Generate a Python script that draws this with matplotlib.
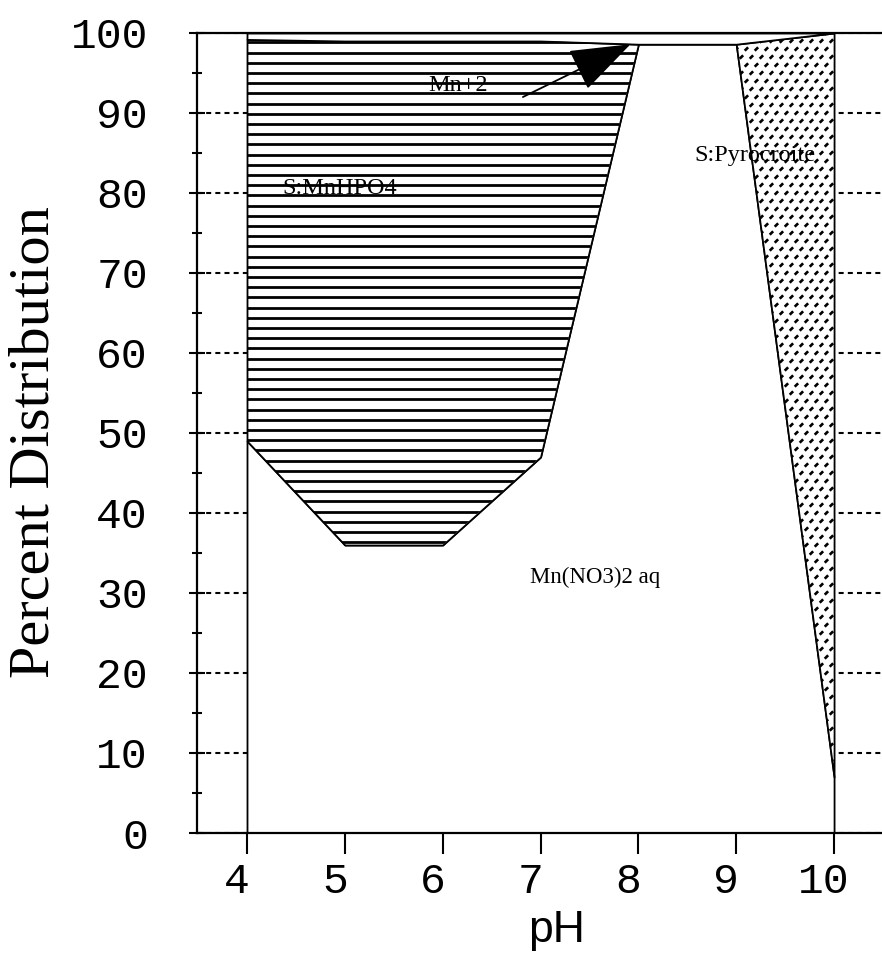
import numpy as np
import matplotlib
matplotlib.use("Agg")
import matplotlib.pyplot as plt
from matplotlib.collections import LineCollection
from matplotlib.transforms import ScaledTranslation

# Species distribution of Mn versus pH (cumulative stacking, bottom to top)
ph = [4, 5, 6, 7, 8, 9, 10]
mn_no3_aq = [49.0, 36.0, 36.0, 47.0, 98.6, 98.6, 7.0]     # Mn(NO3)2 aq
s_mnhpo4 = [50.2, 63.0, 63.0, 52.0, 0.0, 0.0, 0.0]        # S:MnHPO4
s_pyrocroite = [0.0, 0.0, 0.0, 0.0, 0.0, 0.0, 93.0]       # S:Pyrocroite
mn_2 = [0.8, 1.0, 1.0, 1.0, 1.4, 1.4, 0.0]                # Mn+2

x_ticks = [4, 5, 6, 7, 8, 9, 10]
y_ticks = [0, 10, 20, 30, 40, 50, 60, 70, 80, 90, 100]

W, H, DPI = 882, 963, 100
fig = plt.figure(figsize=(W / DPI, H / DPI), dpi=DPI)
ax_l, ax_b, ax_w, ax_h = 197, 130, 685, 800
x0, x1 = 3.489, 10.49
ax = fig.add_axes([ax_l / W, ax_b / H, ax_w / W, ax_h / H])
ax.set_xlim(x0, x1)
ax.set_ylim(0, 100)

px_per_x = ax_w / (x1 - x0)
px_per_y = ax_h / 100.0

ph_a = np.array(ph, float)
b0 = np.zeros_like(ph_a)
b1 = b0 + np.array(mn_no3_aq)
b2 = b1 + np.array(s_mnhpo4)
b3 = b2 + np.array(s_pyrocroite)
b4 = b3 + np.array(mn_2)

edge_kw = dict(facecolor="white", edgecolor="black", linewidth=1.3, zorder=2)

ax.fill_between(ph_a, b0, b1, **edge_kw)

# S:MnHPO4 band (pH 4-8) with horizontal line shading
m = ph_a <= 8
poly_hpo4 = ax.fill_between(ph_a[m], b1[m], b2[m], **edge_kw)
step = 10.2 / px_per_y
ys = np.arange(step / 2, 100, step)
segs = [[(4.0, yv), (10.0, yv)] for yv in ys]
lc = LineCollection(segs, colors="black", linewidths=2.0, zorder=3)
ax.add_collection(lc)
lc.set_clip_path(poly_hpo4.get_paths()[0], poly_hpo4.get_transform())

# S:Pyrocroite band (pH 9-10) with small dash texture
mp = ph_a >= 9
poly_pyr = ax.fill_between(ph_a[mp], b2[mp], b3[mp], **edge_kw)
dxp, dyp = 10.0, 8.0
half = 1.7
marks = []
for r, py in enumerate(np.arange(0, ax_h + dyp, dyp)):
    off = (dxp / 2) if r % 2 else 0.0
    for px in np.arange((8.9 - x0) * px_per_x + off, (10.1 - x0) * px_per_x, dxp):
        xc = x0 + px / px_per_x
        yc = py / px_per_y
        marks.append([(xc - half / px_per_x, yc - half / px_per_y),
                      (xc + half / px_per_x, yc + half / px_per_y)])
lc2 = LineCollection(marks, colors="black", linewidths=1.9, zorder=3, capstyle="butt")
ax.add_collection(lc2)
lc2.set_clip_path(poly_pyr.get_paths()[0], poly_pyr.get_transform())

# Mn+2 thin band on top
ax.fill_between(ph_a, b3, b4, **edge_kw)

# Axes styling
ax.spines["right"].set_visible(False)
for side in ("left", "bottom", "top"):
    ax.spines[side].set_linewidth(1.6)
    ax.spines[side].set_zorder(4)

ax.set_xticks(x_ticks)
ax.set_yticks(y_ticks)
ax.set_yticks(np.arange(5, 100, 10), minor=True)
mono = "Liberation Mono"
ax.tick_params(axis="x", direction="out", length=15, width=1.5, pad=6,
               labelsize=31, labelfontfamily=mono)
ax.tick_params(axis="y", which="major", direction="inout", length=11, width=1.5,
               pad=30, labelsize=31, labelfontfamily=mono)
ax.tick_params(axis="y", which="minor", direction="inout", length=7, width=1.5)
ax.tick_params(axis="x", which="minor", bottom=False)

ax.set_axisbelow(True)
ax.yaxis.grid(True, which="major", color="black", linewidth=1.5,
              linestyle=(0, (2.4, 2.0)))
ax.xaxis.grid(False)

for lbl in ax.get_xticklabels():
    lbl.set_transform(lbl.get_transform() + ScaledTranslation(-0.1, 0, fig.dpi_scale_trans))

serif = "Liberation Serif"
ax.text(4.95, 80.6, "S:MnHPO4", family=serif, fontsize=17.5, ha="center", va="center", zorder=2.5)
ax.text(6.16, 93.4, "Mn+2", family=serif, fontsize=17.5, ha="center", va="center", zorder=5)
ax.text(9.19, 84.7, "S:Pyrocroite", family=serif, fontsize=17.5, ha="center", va="center", zorder=5)
ax.text(7.56, 31.9, "Mn(NO3)2 aq", family=serif, fontsize=16.5, ha="center", va="center", zorder=5)

ax.annotate("", xy=(7.92, 98.6), xytext=(6.82, 92.0),
            arrowprops=dict(arrowstyle="-|>,head_length=0.5,head_width=0.18",
                            mutation_scale=78, color="black", lw=1.3,
                            shrinkA=0, shrinkB=0),
            zorder=6)

fig.text(35 / W, 1 - 442 / H, "Percent Distribution", family=serif, fontsize=42,
         rotation=90, ha="center", va="center")
fig.text(557 / W, 1 - 930 / H, "pH", family="Liberation Sans", fontsize=32,
         ha="center", va="center")

fig.savefig("out.png", dpi=DPI, facecolor="white")
